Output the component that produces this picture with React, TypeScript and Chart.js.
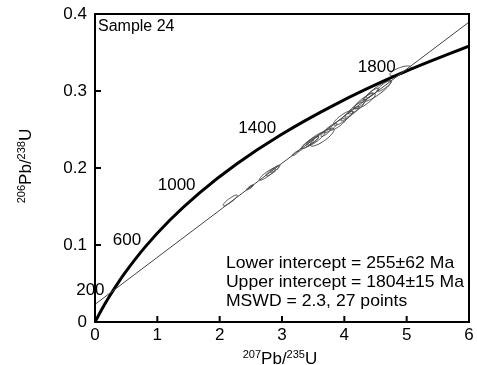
import React, { useEffect, useRef } from 'react';
import { Chart, registerables } from 'chart.js';

Chart.register(...registerables);

// Concordia curve (age in Ma, 207Pb/235U, 206Pb/238U)
const concAge = [0, 100, 200, 300, 400, 600, 800, 1000, 1200, 1400, 1600, 1800, 2000];
const concX = [0, 0.1035, 0.2177, 0.3437, 0.4828, 0.8056, 1.1987, 1.6774, 2.2603, 2.97, 3.8344, 4.8865, 6.1685];
const concY = [0, 0.01563, 0.03151, 0.04764, 0.06402, 0.09754, 0.13214, 0.16782, 0.2046, 0.24257, 0.28173, 0.32212, 0.36376];
const labelAges = [200, 600, 1000, 1400, 1800];

// Discordia line
const discX = [0, 6];
const discY = [0.0229, 0.3895];

// Analyses (error ellipses): centre, errors, correlation
const ellX = [2.17, 2.48, 2.51, 2.765, 2.845, 2.89, 3.215, 3.29, 3.41, 3.455, 3.5, 3.535, 3.645, 3.7, 3.78, 3.9, 3.98, 4.045, 4.125, 4.19, 4.25, 4.33, 4.38, 4.45, 4.53, 4.64, 4.9];
const ellY = [0.158, 0.1745, 0.1762, 0.192, 0.196, 0.199, 0.219, 0.2235, 0.231, 0.2335, 0.2355, 0.2375, 0.24, 0.2455, 0.252, 0.257, 0.265, 0.2675, 0.273, 0.278, 0.283, 0.287, 0.293, 0.2975, 0.3, 0.3065, 0.326];
const ellSx = [0.115, 0.051, 0.038, 0.128, 0.102, 0.077, 0.051, 0.038, 0.102, 0.128, 0.09, 0.154, 0.192, 0.077, 0.102, 0.128, 0.154, 0.102, 0.115, 0.128, 0.102, 0.167, 0.077, 0.102, 0.218, 0.115, 0.17];
const ellSy = [0.007, 0.0031, 0.0023, 0.0078, 0.0062, 0.0047, 0.0031, 0.0023, 0.0062, 0.0078, 0.0055, 0.0094, 0.0117, 0.0047, 0.0062, 0.0078, 0.0094, 0.0062, 0.007, 0.0078, 0.0062, 0.0102, 0.0047, 0.0062, 0.0133, 0.007, 0.0065];
const ellRho = [0.9, 0.88, 0.85, 0.9, 0.89, 0.88, 0.88, 0.85, 0.89, 0.89, 0.88, 0.89, 0.84, 0.88, 0.88, 0.87, 0.84, 0.88, 0.88, 0.87, 0.88, 0.85, 0.88, 0.88, 0.9, 0.87, 0.7];

// Texts
const sampleName = 'Sample 24';
const resultLines = ['Lower intercept = 255±62 Ma', 'Upper intercept = 1804±15 Ma', 'MSWD = 2.3, 27 points'];
const xTitleParts: [string, boolean][] = [['207', true], ['Pb', false], ['/', false], ['235', true], ['U', false]];
const yTitleParts: [string, boolean][] = [['206', true], ['Pb', false], ['/', false], ['238', true], ['U', false]];

const FONT = '"Liberation Sans", Arial, sans-serif';

function drawRich(ctx: CanvasRenderingContext2D, parts: [string, boolean][], cx: number, by: number) {
  const main = `17px ${FONT}`;
  const sup = `11px ${FONT}`;
  let total = 0;
  const widths = parts.map(([t, s]) => {
    ctx.font = s ? sup : main;
    const w = ctx.measureText(t).width;
    total += w;
    return w;
  });
  let x = cx - total / 2;
  ctx.textAlign = 'left';
  ctx.textBaseline = 'alphabetic';
  parts.forEach(([t, s], i) => {
    ctx.font = s ? sup : main;
    ctx.fillText(t, x, s ? by - 6 : by);
    x += widths[i];
  });
}

const decorPlugin = {
  id: 'decor',
  beforeDatasetsDraw(chart: any) {
    const ctx: CanvasRenderingContext2D = chart.ctx;
    const xs = chart.scales.x;
    const ys = chart.scales.y;
    const ca = chart.chartArea;
    const kx = xs.getPixelForValue(1) - xs.getPixelForValue(0);
    const ky = ys.getPixelForValue(0) - ys.getPixelForValue(1);
    ctx.save();
    ctx.beginPath();
    ctx.rect(ca.left, ca.top, ca.right - ca.left, ca.bottom - ca.top);
    ctx.clip();
    ctx.strokeStyle = '#444';
    ctx.lineWidth = 1;
    for (let i = 0; i < ellX.length; i++) {
      const cx = xs.getPixelForValue(ellX[i]);
      const cy = ys.getPixelForValue(ellY[i]);
      const sx = ellSx[i] * kx;
      const sy = ellSy[i] * ky;
      const r = ellRho[i];
      const q = Math.sqrt(1 - r * r);
      ctx.beginPath();
      for (let k = 0; k <= 72; k++) {
        const th = (k / 72) * Math.PI * 2;
        const px = cx + sx * Math.cos(th);
        const py = cy - sy * (r * Math.cos(th) + q * Math.sin(th));
        if (k === 0) ctx.moveTo(px, py);
        else ctx.lineTo(px, py);
      }
      ctx.closePath();
      ctx.stroke();
    }
    ctx.restore();
  },
  afterDraw(chart: any) {
    const ctx: CanvasRenderingContext2D = chart.ctx;
    const xs = chart.scales.x;
    const ys = chart.scales.y;
    const { left, right, top, bottom } = chart.chartArea;
    ctx.save();
    // frame
    ctx.strokeStyle = '#000';
    ctx.lineWidth = 2;
    ctx.strokeRect(left, top, right - left, bottom - top);
    // inward ticks
    ctx.beginPath();
    xs.ticks.forEach((t: any) => {
      if (t.value <= xs.min || t.value >= xs.max) return;
      const px = xs.getPixelForValue(t.value);
      ctx.moveTo(px, bottom);
      ctx.lineTo(px, bottom - 6);
    });
    ys.ticks.forEach((t: any) => {
      if (t.value <= ys.min + 1e-9 || t.value >= ys.max - 1e-9) return;
      const py = ys.getPixelForValue(t.value);
      ctx.moveTo(left, py);
      ctx.lineTo(left + 6, py);
    });
    ctx.stroke();

    ctx.fillStyle = '#000';
    // age labels on concordia
    ctx.font = `17px ${FONT}`;
    ctx.textAlign = 'right';
    ctx.textBaseline = 'middle';
    labelAges.forEach((age) => {
      const i = concAge.indexOf(age);
      const px = xs.getPixelForValue(concX[i]);
      const py = ys.getPixelForValue(concY[i]);
      ctx.fillText(String(age), px - 4, py - 7);
    });

    // sample name
    ctx.font = `16px ${FONT}`;
    ctx.textAlign = 'left';
    ctx.textBaseline = 'alphabetic';
    ctx.fillText(sampleName, left + 3, top + 17);

    // results block
    ctx.save();
    ctx.font = `17px ${FONT}`;
    const bx = xs.getPixelForValue(2.1);
    ctx.translate(bx, 0);
    ctx.scale(1.035, 1);
    resultLines.forEach((s, i) => {
      ctx.fillText(s, 0, bottom - 54 + i * 19);
    });
    ctx.restore();

    // axis titles
    drawRich(ctx, xTitleParts, (left + right) / 2 - 2, 364);
    ctx.save();
    ctx.translate(31, (top + bottom) / 2 - 2);
    ctx.rotate(-Math.PI / 2);
    drawRich(ctx, yTitleParts, 0, 0);
    ctx.restore();

    ctx.restore();
  },
};

export default function App() {
  const ref = useRef<HTMLCanvasElement | null>(null);
  useEffect(() => {
    if (!ref.current) return;
    const chart = new Chart(ref.current, {
      type: 'scatter',
      data: {
        datasets: [
          {
            label: 'Discordia',
            data: discX.map((x, i) => ({ x, y: discY[i] })),
            showLine: true,
            borderColor: '#444',
            borderWidth: 1,
            pointRadius: 0,
          },
          {
            label: 'Concordia',
            data: concX.map((x, i) => ({ x, y: concY[i] })),
            showLine: true,
            borderColor: '#000',
            borderWidth: 3,
            pointRadius: 0,
            cubicInterpolationMode: 'monotone',
          },
        ],
      },
      options: {
        animation: false,
        responsive: false,
        devicePixelRatio: 1,
        layout: { padding: { top: 14, right: 8, left: 0, bottom: 0 } },
        plugins: { legend: { display: false }, tooltip: { enabled: false }, title: { display: false } },
        scales: {
          x: {
            type: 'linear',
            min: 0,
            max: 6,
            ticks: { stepSize: 1, color: '#000', font: { family: FONT, size: 17 }, padding: 3 },
            grid: { display: false, drawTicks: false },
            border: { display: false },
            afterFit: (s: any) => {
              s.height = 43;
              s.paddingLeft = 0;
              s.paddingRight = 0;
            },
          },
          y: {
            type: 'linear',
            min: 0,
            max: 0.4,
            ticks: { stepSize: 0.1, color: '#000', font: { family: FONT, size: 17 }, padding: 8 },
            grid: { display: false, drawTicks: false },
            border: { display: false },
            afterFit: (s: any) => {
              s.width = 95;
              s.paddingTop = 0;
              s.paddingBottom = 0;
            },
          },
        },
      },
      plugins: [decorPlugin],
    } as any);
    return () => chart.destroy();
  }, []);
  return (
    <div style={{ position: 'absolute', left: 0, top: 0, width: 477, height: 365, background: '#fff' }}>
      <canvas ref={ref} width={477} height={365} style={{ width: 477, height: 365, display: 'block' }} />
    </div>
  );
}
